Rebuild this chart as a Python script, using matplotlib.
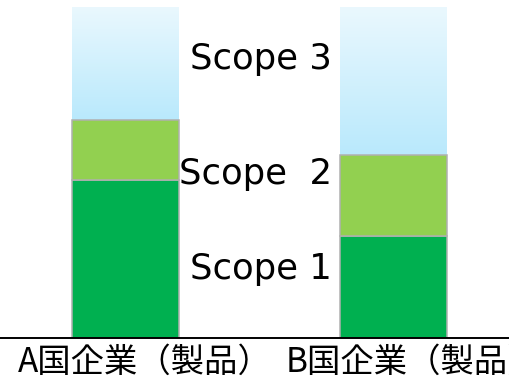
import matplotlib
matplotlib.use("Agg")
import matplotlib.pyplot as plt
import numpy as np
from matplotlib.colors import LinearSegmentedColormap

categories = ["A国企業（製品）", "B国企業（製品）"]
scope1 = [47.7, 30.8]
scope2 = [18.1, 24.5]
scope3 = [34.2, 44.7]
scope_labels = ["Scope 1", "Scope  2", "Scope 3"]

W, H = 510, 376
fig = plt.figure(figsize=(W / 100, H / 100), dpi=100)
base_px, top_px = 338, 7
ax = fig.add_axes([0, (H - base_px) / H, 1, (base_px - top_px) / H])

x = np.arange(len(categories))
pxu = 268.0
ax.set_xlim(-125.5 / pxu, (W - 125.5) / pxu)
ax.set_ylim(0, 100)
width = 107 / pxu

c1, c2 = "#00b050", "#92d050"
edge = "#b0b0b0"
s1 = np.array(scope1)
s2 = np.array(scope2)
s3 = np.array(scope3)
ax.bar(x, s1, width, color=c1, edgecolor=edge, linewidth=1.1, zorder=2)
ax.bar(x, s2, width, bottom=s1, color=c2, edgecolor=edge, linewidth=1.1, zorder=2)
bars3 = ax.bar(x, s3, width, bottom=s1 + s2, color="none", linewidth=0, zorder=1)

cmap = LinearSegmentedColormap.from_list("sky", ["#b9e9fc", "#eaf8fe"])
grad = np.linspace(0, 1, 256).reshape(-1, 1)
for b in bars3:
    x0, y0 = b.get_x(), b.get_y()
    w, h = b.get_width(), b.get_height()
    im = ax.imshow(grad, cmap=cmap, aspect="auto", origin="lower",
                   extent=[x0, x0 + w, y0, y0 + h], zorder=1)
    im.set_clip_path(b)
ax.set_xlim(-125.5 / pxu, (W - 125.5) / pxu)
ax.set_ylim(0, 100)

for sp in ["top", "right", "left"]:
    ax.spines[sp].set_visible(False)
ax.spines["bottom"].set_linewidth(1.4)
ax.spines["bottom"].set_color("black")
ax.set_xticks([])
ax.set_yticks([])

# scope labels (right-aligned between bars)
lab_x = (332 - 125.5) / pxu
lab_y = [17.8, 46.5, 81.3]
for t, yy in zip(scope_labels, lab_y):
    ax.text(lab_x, yy, t, ha="right", va="baseline", fontsize=25.5,
            family="DejaVu Sans", color="black")

# category labels
for xi, c in zip(x, categories):
    ax.text(xi + (18 - 125.5) / pxu, -2.0, c, ha="left", va="top", fontsize=24,
            family=["Noto Sans CJK JP", "DejaVu Sans"], color="black",
            clip_on=False)

fig.savefig("out.png", dpi=100)
